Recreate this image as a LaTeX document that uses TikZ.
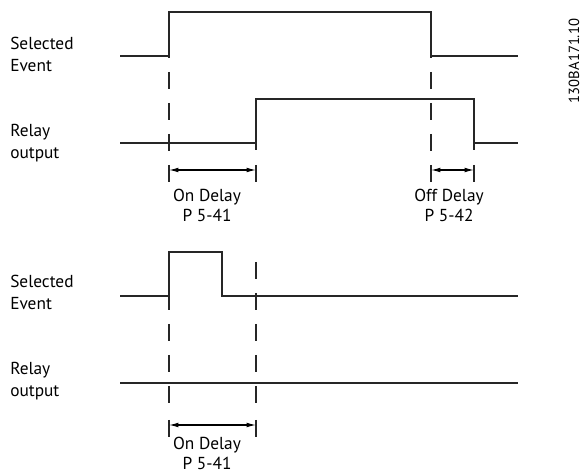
\documentclass[tikz,border=0pt]{standalone}
\usepackage{fontspec}
\setmainfont{PT Sans}
\usetikzlibrary{arrows.meta}
\tikzset{
  sig/.style={line width=0.8pt, black!85},
  guide/.style={line width=0.8pt, black!85, dash pattern=on 12.75pt off 10.5pt},
  dim/.style={line width=0.8pt, {Latex[length=7pt,width=3.5pt]}-{Latex[length=7pt,width=3.5pt]}},
  lbl/.style={inner sep=0pt, align=left, anchor=base west, font=\fontsize{13}{16.5}\selectfont},
  dlbl/.style={inner sep=0pt, align=center, anchor=base, font=\fontsize{13}{15.5}\selectfont},
}
\begin{document}
\begin{tikzpicture}[x=0.75pt,y=-0.75pt]
      \useasboundingbox (0,0) rectangle (582,473);
      % upper chart
      \draw[sig] (120,56) -- (169,56) -- (169,12) -- (431,12) -- (431,56) -- (518,56);
      \draw[sig] (120,143) -- (256,143) -- (256,99) -- (474,99) -- (474,143) -- (518,143);
      \draw[guide] (169,41) -- (169,152);
      \draw[guide] (431,41) -- (431,152);
      \draw[sig] (256,143) -- (256,150);
      \draw[sig] (474,143) -- (474,150);
      \foreach \x in {169,256,431,474}
        \draw[sig] (\x,165) -- (\x,182);
      \coordinate (onA) at (169,170);
      \coordinate (onB) at (256,170);
      \coordinate (offA) at (431,170);
      \coordinate (offB) at (474,170);
      \draw[dim] (onA) -- (onB);
      \draw[dim] (offA) -- (offB);
      % base anchor sits on the last line
      \node[lbl] (selA) at (10,72) {Selected\\Event};
      \node[lbl] (relA) at (10,159) {Relay\\output};
      \node[dlbl] (onLblA) at (207,222) {On Delay\\P 5-41};
      \node[dlbl] (offLbl) at (449,222) {Off Delay\\P 5-42};
      % lower chart
      \draw[sig] (120,296) -- (169,296) -- (169,252) -- (222,252) -- (222,296) -- (518,296);
      \draw[sig] (120,383) -- (518,383);
      \draw[guide] (169,262) -- (169,405);
      \draw[guide] (256,262) -- (256,405);
      \foreach \x in {169,256}
        \draw[sig] (\x,420) -- (\x,437);
      \coordinate (onC) at (169,425);
      \coordinate (onD) at (256,425);
      \draw[dim] (onC) -- (onD);
      \node[lbl] (selB) at (10,310) {Selected\\Event};
      \node[lbl] (relB) at (10,397) {Relay\\output};
      \node[dlbl, text depth=0pt] (onLblB) at (207,470) {On Delay\\P 5-41};
      % drawing number
      \node[rotate=90, inner sep=0pt, font=\fontsize{11}{12}\selectfont] (dwgNo) at (574,61) {130BA171.10};
\end{tikzpicture}
\end{document}
